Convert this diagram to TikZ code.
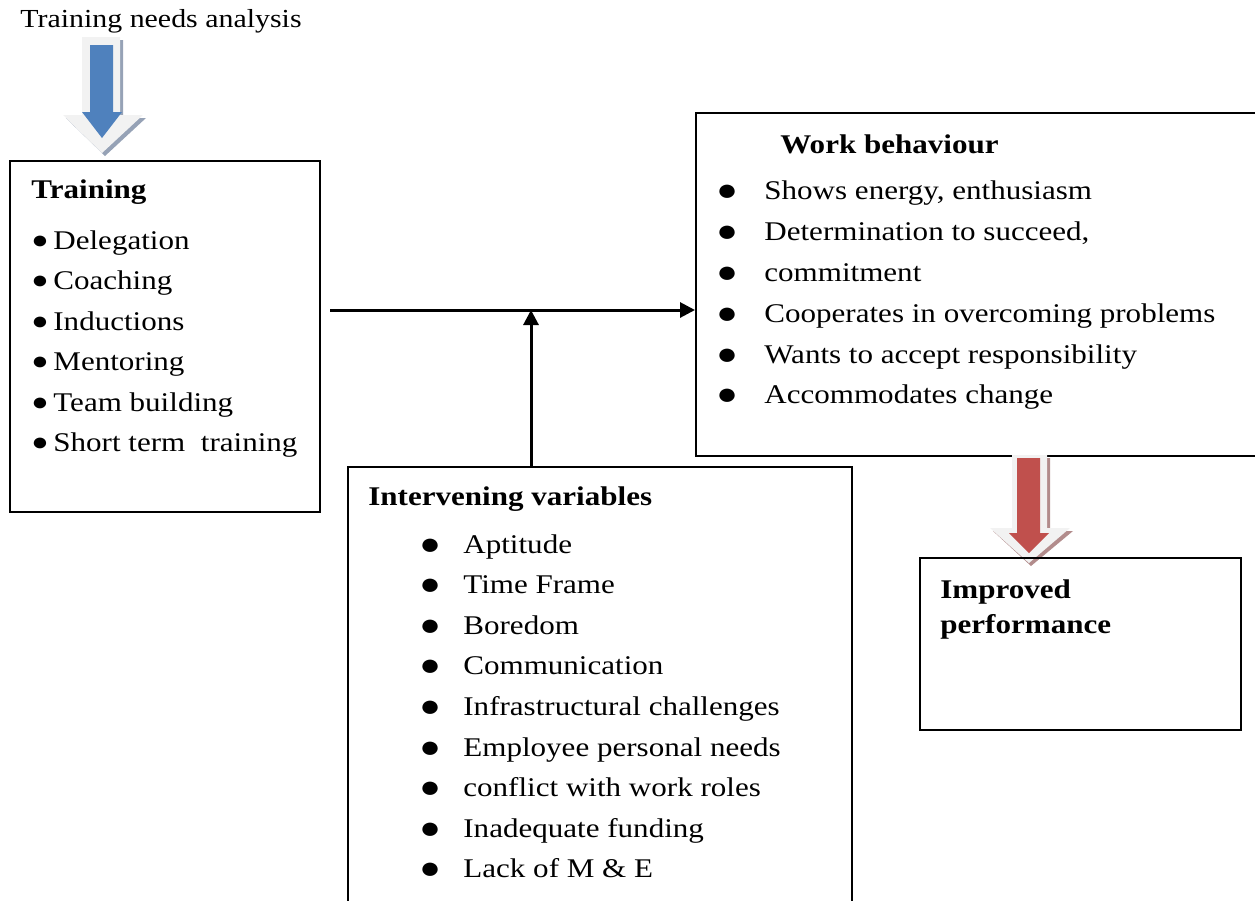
\documentclass[tikz,border=0pt]{standalone}
\usepackage{fontspec}
\setmainfont[FakeStretch=1.15]{Liberation Serif}
\usetikzlibrary{arrows.meta}

\definecolor{arrblue}{RGB}{79,129,189}
\definecolor{arrred}{RGB}{192,80,77}
\definecolor{shblue}{RGB}{150,162,182}
\definecolor{shred}{RGB}{178,140,140}
\definecolor{arrwhite}{RGB}{242,242,242}

\newcommand{\bul}[1]{\makebox[#1][l]{\raisebox{0.4pt}[0pt][0pt]{\fontsize{12.5}{12}\selectfont ●}}}
\newcommand{\bigbul}[1]{\makebox[#1][l]{\raisebox{-0.7pt}[0pt][0pt]{\fontsize{15.5}{12}\selectfont ●}}}

\tikzset{
  box/.style={draw, line width=1pt, rectangle, inner sep=0pt, anchor=north west},
  item/.style={anchor=base west, inner sep=0pt, font=\fontsize{13.5}{16}\selectfont},
  head/.style={anchor=base west, inner sep=0pt, font=\fontsize{13.5}{16}\selectfont\bfseries},
  link/.style={line width=1.5pt, -{Triangle[length=7.5pt,width=7.5pt]}}
}

\begin{document}
\begin{tikzpicture}[x=0.5pt,y=-0.5pt]
    \useasboundingbox (0,0) rectangle (1255,901);
    \clip (0,0) rectangle (1255,901);
    % top label and blue arrow
    \node[item, font=\fontsize{13}{16}\selectfont] (tna) at (20,27) {Training needs analysis};
    \fill [shblue] (85,40) -- (123,40) -- (123,118) -- (146,118) -- (105,156) -- (66,118) -- (85,118) -- cycle;
    \fill [arrwhite] (82,37) -- (120,37) -- (120,115) -- (143,115) -- (102,153) -- (63,115) -- (82,115) -- cycle;
    \fill [arrblue] (90,45) -- (113,45) -- (113,112) -- (122,112) -- (102,138) -- (82,112) -- (90,112) -- cycle;
    % training box
    \node[box, minimum width=155pt, minimum height=175.5pt] (train) at (9,160) {};
    \node[head] (trainT) at (31,198) {Training};
    \node[item] (t1) at (31,249) {\bul{11pt}Delegation};
    \node[item] (t2) at (31,289.5) {\bul{11pt}Coaching};
    \node[item] (t3) at (31,330) {\bul{11pt}Inductions};
    \node[item] (t4) at (31,370.5) {\bul{11pt}Mentoring};
    \node[item] (t5) at (31,411) {\bul{11pt}Team building};
    \node[item] (t6) at (31,451.5) {\bul{11pt}Short term\ \ training};
    % work behaviour box
    \node[box, minimum width=283.5pt, minimum height=171.5pt] (work) at (695,112) {};
    \node[head] (workT) at (780,153) {Work behaviour};
    \node[item] (w1) at (716,199) {\bigbul{24pt}Shows energy, enthusiasm};
    \node[item] (w2) at (716,240) {\bigbul{24pt}Determination to succeed,};
    \node[item] (w3) at (716,281) {\bigbul{24pt}commitment};
    \node[item] (w4) at (716,322) {\bigbul{24pt}Cooperates in overcoming problems};
    \node[item] (w5) at (716,363) {\bigbul{24pt}Wants to accept responsibility};
    \node[item] (w6) at (716,403) {\bigbul{24pt}Accommodates change};
    % red arrow
    \fill [shred] (1015,458) -- (1050,458) -- (1050,531) -- (1073,531) -- (1031,566) -- (993,531) -- (1015,531) -- cycle;
    \fill [arrwhite] (1012,455) -- (1047,455) -- (1047,528) -- (1070,528) -- (1029,563) -- (990,528) -- (1012,528) -- cycle;
    \fill [arrred] (1017,458) -- (1040,458) -- (1040,533) -- (1049,533) -- (1029,553) -- (1009,533) -- (1017,533) -- cycle;
    % improved performance box
    \node[box, minimum width=160.5pt, minimum height=86pt] (perf) at (919,557) {};
    \node[head] (perf1) at (940,598) {Improved};
    \node[head] (perf2) at (940,633) {performance};
    % intervening variables box
    \node[box, minimum width=252pt, minimum height=222pt] (inter) at (347,466) {};
    \node[head] (interT) at (368,505) {Intervening variables};
    \node[item] (v1) at (419,553) {\bigbul{22pt}Aptitude};
    \node[item] (v2) at (419,593) {\bigbul{22pt}Time Frame};
    \node[item] (v3) at (419,634) {\bigbul{22pt}Boredom};
    \node[item] (v4) at (419,674) {\bigbul{22pt}Communication};
    \node[item] (v5) at (419,715) {\bigbul{22pt}Infrastructural challenges};
    \node[item] (v6) at (419,756) {\bigbul{22pt}Employee personal needs};
    \node[item] (v7) at (419,796) {\bigbul{22pt}conflict with work roles};
    \node[item] (v8) at (419,837) {\bigbul{22pt}Inadequate funding};
    \node[item] (v9) at (419,877) {\bigbul{22pt}Lack of M \& E};
    % connectors
    \coordinate (hs) at (330,310);
    \coordinate (junc) at (531,310);
    \draw [link] (hs) -- (hs -| work.west);
    \draw [link] (inter.north -| junc) -- (junc);
\end{tikzpicture}
\end{document}
